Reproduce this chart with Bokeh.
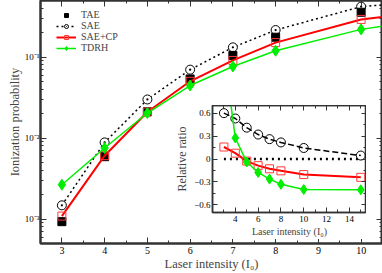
from bokeh.plotting import figure
from bokeh.models import (LinearAxis, LogAxis, FixedTicker, Legend, LegendItem,
                          CustomJSTickFormatter, Column)
from bokeh.embed import file_html
from bokeh.resources import INLINE

# ---------------- data ----------------
intensity = [3, 4, 5, 6, 7, 8, 10, 15]
tae_x = [3, 4, 5, 6, 7, 8, 10]
tae = [9.3e-4, 5.9e-3, 0.0212, 0.0538, 0.105, 0.176, 0.358]
sae = [1.48e-3, 8.85e-3, 0.030, 0.070, 0.132, 0.216, 0.42, 0.67]
sae_cp = [1.09e-3, 6.07e-3, 0.021, 0.0503, 0.091, 0.151, 0.292, 0.607]
tdrh = [2.66e-3, 7.55e-3, 0.0204, 0.0446, 0.0767, 0.120, 0.220, 0.558]

ratio_x = [3, 4, 5, 6, 7, 8, 10, 15]
ratio_sae = [0.60, 0.53, 0.41, 0.32, 0.26, 0.217, 0.144, 0.045]
ratio_cp = [0.157, 0.076, -0.027, -0.087, -0.128, -0.155, -0.204, -0.24]
ratio_tdrh = [1.4, 0.275, -0.04, -0.176, -0.263, -0.331, -0.399, -0.403]
zero_x = [3, 15]
zero_y = [0, 0]

main_xticks = [3, 4, 5, 6, 7, 8, 9, 10]
main_xminor = [2.5, 3.5, 4.5, 5.5, 6.5, 7.5, 8.5, 9.5, 10.5]
main_yticks = [1e-3, 1e-2, 1e-1]
main_yminor = [k * 10.0 ** e for e in (-4, -3, -2, -1) for k in range(2, 10)]
inset_xticks = [4, 6, 8, 10, 12, 14]
inset_xminor = [3, 5, 7, 9, 11, 13, 15]
inset_yticks = [-0.6, -0.3, 0.0, 0.3, 0.6]
inset_yminor = [-0.45, -0.15, 0.15, 0.45]

FONT = "Liberation Serif"
AX = "#333333"
GREEN = "#00ee00"
RED = "#ff0000"

blank = CustomJSTickFormatter(code="return ''")
expfmt = CustomJSTickFormatter(code="""
const sup = {'-1':'\u207b\u00b9','-2':'\u207b\u00b2','-3':'\u207b\u00b3','-4':'\u207b\u2074','0':'\u2070'};
const e = Math.round(Math.log10(tick));
return '10' + (sup[String(e)] || String(e));
""")


def style_axis(ax, major=6, minor=3, lw=2):
    ax.axis_line_color = AX
    ax.axis_line_width = lw
    ax.major_tick_line_color = AX
    ax.minor_tick_line_color = AX
    ax.major_tick_in = major
    ax.major_tick_out = 0
    ax.minor_tick_in = minor
    ax.minor_tick_out = 0
    ax.major_label_text_font = FONT
    ax.axis_label_text_font = FONT
    ax.axis_label_text_font_style = "normal"
    ax.major_label_text_color = "black"


# ---------------- main plot ----------------
p = figure(width=382, height=273, y_axis_type="log",
           x_range=(2.5, 10.5), y_range=(5e-4, 0.5),
           output_backend="svg", toolbar_location=None,
           min_border_left=0, min_border_right=0, min_border_top=0,
           min_border_bottom=0)
p.grid.visible = False
p.outline_line_color = AX
p.outline_line_width = 2

xt = FixedTicker(ticks=main_xticks, minor_ticks=main_xminor)
yt = FixedTicker(ticks=main_yticks, minor_ticks=main_yminor)

xa = p.xaxis[0]
xa.ticker = xt
xa.axis_label = "Laser intensity (I\u2080)"
style_axis(xa)
xa.major_label_text_font_size = "10px"
xa.axis_label_text_font_size = "12.5px"
xa.major_label_standoff = 3
xa.axis_label_standoff = 0

ya = p.yaxis[0]
ya.ticker = yt
ya.formatter = expfmt
ya.axis_label = "Ionization probability"
style_axis(ya)
ya.major_label_text_font_size = "9px"
ya.axis_label_text_font_size = "12.5px"
ya.major_label_standoff = 1
ya.axis_label_standoff = 0

top = LinearAxis(ticker=xt, formatter=blank, major_label_standoff=0)
style_axis(top)
p.add_layout(top, "above")
right = LogAxis(ticker=yt, formatter=blank, major_label_standoff=0)
style_axis(right)
p.add_layout(right, "right")

sae_line = p.line(intensity, sae, line_color="black", line_width=1.5, line_dash="2 3")
sae_mk = p.scatter(intensity, sae, marker="circle_dot", size=9, line_color="black",
                   fill_color="white", line_width=1)
tae_mk = p.scatter(tae_x, tae, marker="square", size=8, color="black")
cp_line = p.line(intensity, sae_cp, line_color=RED, line_width=2)
cp_mk = p.scatter(intensity, sae_cp, marker="square", size=8, line_color="#ff3b3b",
                  fill_alpha=0, line_width=1)
td_line = p.line(intensity, tdrh, line_color=GREEN, line_width=1.5)
td_mk = p.scatter(intensity, tdrh, marker="diamond", size=11, color=GREEN)

legend = Legend(items=[
    LegendItem(label="TAE", renderers=[tae_mk]),
    LegendItem(label="SAE", renderers=[sae_line, sae_mk]),
    LegendItem(label="SAE+CP", renderers=[cp_line, cp_mk]),
    LegendItem(label="TDRH", renderers=[td_line, td_mk]),
], location=(16, 190))
legend.label_text_font = FONT
legend.label_text_font_size = "10px"
legend.label_text_line_height = 1.0
legend.label_height = 10
legend.glyph_height = 10
legend.glyph_width = 20
legend.spacing = 0
legend.padding = 0
legend.margin = 0
legend.label_standoff = 5
legend.border_line_alpha = 0
legend.background_fill_alpha = 0
p.add_layout(legend)

# ---------------- inset ----------------
ins = figure(width=194, height=134, x_range=(2, 15.5), y_range=(-0.7, 0.7),
             output_backend="svg", toolbar_location=None,
             min_border_left=0, min_border_right=0, min_border_top=0,
             min_border_bottom=0,
             styles={"position": "absolute", "left": "172px", "top": "105px"})
ins.grid.visible = False
ins.outline_line_color = AX
ins.outline_line_width = 1.5
ins.background_fill_color = "white"
ins.border_fill_color = "white"

ixt = FixedTicker(ticks=inset_xticks, minor_ticks=inset_xminor)
iyt = FixedTicker(ticks=inset_yticks, minor_ticks=inset_yminor)
ixa = ins.xaxis[0]
ixa.ticker = ixt
ixa.axis_label = "Laser intensity (I\u2080)"
style_axis(ixa, 5, 3, 1.5)
ixa.major_label_text_font_size = "9px"
ixa.axis_label_text_font_size = "10px"
ixa.major_label_standoff = 3
ixa.axis_label_standoff = 1

iya = ins.yaxis[0]
iya.ticker = iyt
iya.axis_label = "Relative ratio"
style_axis(iya, 5, 3, 1.5)
iya.major_label_text_font_size = "9px"
iya.axis_label_text_font_size = "12px"
iya.major_label_standoff = 2
iya.axis_label_standoff = 2

itop = LinearAxis(ticker=ixt, formatter=blank, major_label_standoff=0)
style_axis(itop, 5, 3, 1.5)
ins.add_layout(itop, "above")
iright = LinearAxis(ticker=iyt, formatter=blank, major_label_standoff=0)
style_axis(iright, 5, 3, 1.5)
ins.add_layout(iright, "right")

ins.line(zero_x, zero_y, line_color="black", line_width=2.5, line_dash="2 4")
ins.line(ratio_x, ratio_sae, line_color="black", line_width=1.5, line_dash="6 3")
ins.scatter(ratio_x, ratio_sae, marker="circle", size=9, line_color="black",
            fill_alpha=0, line_width=1)
ins.line(ratio_x, ratio_cp, line_color=RED, line_width=2)
ins.scatter(ratio_x, ratio_cp, marker="square", size=8, line_color="#ff3b3b",
            fill_alpha=0, line_width=1)
ins.line(ratio_x, ratio_tdrh, line_color=GREEN, line_width=1.5)
ins.scatter(ratio_x, ratio_tdrh, marker="diamond", size=10, color=GREEN)

layout = Column(children=[p, ins], styles={"position": "relative"})

open("out.html", "w", encoding="utf-8").write(file_html(layout, INLINE))
